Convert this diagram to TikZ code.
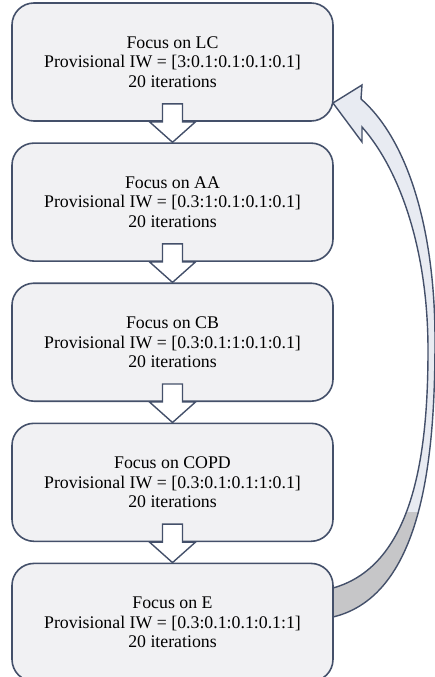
\documentclass[tikz,border=0pt]{standalone}
\usepackage{fontspec}
\setmainfont{Liberation Serif}
\usetikzlibrary{positioning,calc}

\definecolor{edgeblue}{HTML}{44506A}
\definecolor{boxfill}{HTML}{F1F1F3}
\definecolor{bandlight}{HTML}{E8EBF2}
\definecolor{bandgray}{HTML}{C6C6C8}

% outline of the feedback arrow (pixel units, y down)
\newcommand{\feedbackband}{%
  (333,103) -- (362,85) -- (361,99)
  .. controls (408,140) and (435,230) .. (435,340)
  .. controls (435,450) and (425,595) .. (333,617)
  -- (333,588)
  .. controls (415,565) and (428,450) .. (428,350)
  .. controls (428,250) and (400,170) .. (362,127)
  -- (362,142) -- cycle}

\tikzset{
  stagebox/.style={draw=edgeblue, line width=1.6pt, fill=boxfill,
    rounded corners=22pt, minimum width=321pt, minimum height=118pt,
    inner sep=0pt, align=center,
    font=\fontsize{17.8}{19.5}\selectfont},
  blockarrow/.style={draw=edgeblue, line width=1.4pt, fill=white, line join=miter},
}

\begin{document}
\begin{tikzpicture}[x=1pt, y=-1pt]
    \useasboundingbox (0,0) rectangle (435,677);

    % Feedback arrow from E back to LC
    \fill[bandlight] \feedbackband;
    \begin{scope}
        \clip (300,512) rectangle (440,680);
        \fill[bandgray] \feedbackband;
    \end{scope}
    \draw[edgeblue, line width=1.4pt, line join=miter] \feedbackband;

    % Stages
    \node[stagebox] (box1) at (172.5,62) {Focus on LC\\Provisional IW = [3:0.1:0.1:0.1:0.1]\\20 iterations};
    \node[stagebox, below=20.5pt of box1] (box2) {Focus on AA\\Provisional IW = [0.3:1:0.1:0.1:0.1]\\20 iterations};
    \node[stagebox, below=20.5pt of box2] (box3) {Focus on CB\\Provisional IW = [0.3:0.1:1:0.1:0.1]\\20 iterations};
    \node[stagebox, below=20.5pt of box3] (box4) {Focus on COPD\\Provisional IW = [0.3:0.1:0.1:1:0.1]\\20 iterations};
    \node[stagebox, below=20.5pt of box4] (box5) {Focus on E\\Provisional IW = [0.3:0.1:0.1:0.1:1]\\20 iterations};

    % Block arrows between stages
    \foreach \i/\j in {1/2, 2/3, 3/4, 4/5} {
        \draw[blockarrow] ($(box\i.south)+(-10,-18)$) -- ($(box\i.south)+(-10,0)$)
            -- ($(box\i.south)+(-23,0)$) -- (box\j.north)
            -- ($(box\i.south)+(23,0)$) -- ($(box\i.south)+(10,0)$)
            -- ($(box\i.south)+(10,-18)$) -- cycle;
    }

\end{tikzpicture}
\end{document}
